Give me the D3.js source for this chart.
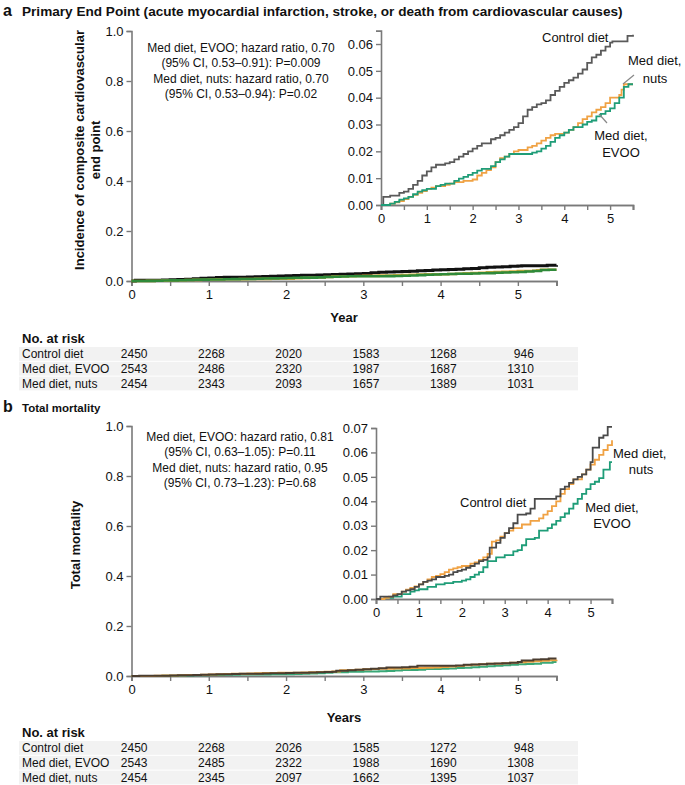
<!DOCTYPE html>
<html><head><meta charset="utf-8">
<script src="https://cdn.jsdelivr.net/npm/d3@7"></script>
<style>body{margin:0;background:#fff}text{font-family:"Liberation Sans",Arial,Helvetica,sans-serif;fill:#111}</style>
</head><body><svg id="c" width="685" height="785"></svg>
<script>
// ---------- DATA ----------
const yearTicks = [0, 1, 2, 3, 4, 5];
const groups = ["Control diet", "Med diet, EVOO", "Med diet, nuts"];
const riskA = [[2450,2268,2020,1583,1268,946],[2543,2486,2320,1987,1687,1310],[2454,2343,2093,1657,1389,1031]];
const riskB = [[2450,2268,2026,1585,1272,948],[2543,2485,2322,1988,1690,1308],[2454,2345,2097,1662,1395,1037]];
const insetTicksA = [0, 0.01, 0.02, 0.03, 0.04, 0.05, 0.06];
const insetTicksB = [0, 0.01, 0.02, 0.03, 0.04, 0.05, 0.06, 0.07];
const mainTicks = [0, 0.2, 0.4, 0.6, 0.8, 1.0];
const annotA = ["Med diet, EVOO; hazard ratio, 0.70","(95% CI, 0.53\u20130.91): P=0.009","Med diet, nuts: hazard ratio, 0.70","(95% CI, 0.53\u20130.94): P=0.02"];
const annotB = ["Med diet, EVOO: hazard ratio, 0.81","(95% CI, 0.63\u20131.05): P=0.11","Med diet, nuts: hazard ratio, 0.95","(95% CI, 0.73\u20131.23): P=0.68"];

// Panel a: primary end point (year, cumulative incidence)
const aControl = [[0,0],[0.05,0.003],[0.2,0.0035],[0.4,0.0045],[0.5,0.005],[0.6,0.006],[0.7,0.0075],[0.8,0.009],[0.9,0.011],[1.0,0.0125],[1.1,0.014],[1.2,0.015],[1.4,0.0155],[1.5,0.016],[1.6,0.017],[1.7,0.018],[1.8,0.019],[1.9,0.02],[2.0,0.021],[2.1,0.022],[2.2,0.023],[2.4,0.0245],[2.5,0.025],[2.6,0.026],[2.7,0.027],[2.8,0.028],[2.9,0.029],[3.0,0.0305],[3.1,0.033],[3.2,0.0355],[3.3,0.0365],[3.4,0.0375],[3.5,0.038],[3.6,0.039],[3.7,0.041],[3.8,0.0425],[3.9,0.044],[4.0,0.0455],[4.1,0.0465],[4.2,0.0475],[4.3,0.049],[4.4,0.0505],[4.5,0.053],[4.6,0.055],[4.7,0.056],[4.8,0.0575],[4.9,0.059],[5.0,0.0605],[5.05,0.061],[5.38,0.063],[5.5,0.0635]];
const aEvoo = [[0,0],[0.2,0.0005],[0.3,0.0012],[0.4,0.002],[0.5,0.0025],[0.6,0.003],[0.7,0.004],[0.8,0.005],[0.9,0.0055],[1.0,0.006],[1.2,0.007],[1.3,0.0075],[1.4,0.008],[1.6,0.009],[1.7,0.0098],[1.8,0.0105],[1.9,0.0112],[2.0,0.012],[2.1,0.0128],[2.2,0.0135],[2.4,0.0145],[2.5,0.016],[2.6,0.017],[2.7,0.018],[2.8,0.019],[3.0,0.019],[3.3,0.0195],[3.4,0.02],[3.5,0.021],[3.6,0.022],[3.7,0.0235],[3.8,0.025],[3.9,0.026],[4.0,0.027],[4.1,0.028],[4.2,0.029],[4.4,0.03],[4.5,0.031],[4.6,0.0315],[4.7,0.033],[4.8,0.034],[4.9,0.035],[5.0,0.036],[5.1,0.038],[5.2,0.04],[5.3,0.044],[5.4,0.045],[5.5,0.045]];
const aNuts = [[0,0],[0.2,0.0005],[0.3,0.001],[0.4,0.0015],[0.5,0.0022],[0.6,0.003],[0.7,0.0038],[0.8,0.0045],[0.9,0.0052],[1.0,0.006],[1.1,0.0065],[1.2,0.007],[1.4,0.0075],[1.5,0.008],[1.6,0.0085],[1.8,0.009],[2.0,0.0095],[2.1,0.011],[2.2,0.012],[2.3,0.013],[2.4,0.014],[2.5,0.016],[2.6,0.0175],[2.7,0.018],[2.8,0.019],[2.9,0.02],[3.0,0.0205],[3.2,0.0215],[3.3,0.022],[3.4,0.023],[3.5,0.024],[3.6,0.025],[3.7,0.026],[3.8,0.0265],[4.0,0.027],[4.1,0.028],[4.2,0.029],[4.3,0.0305],[4.4,0.032],[4.5,0.033],[4.6,0.0345],[4.7,0.0355],[4.8,0.0365],[4.9,0.038],[5.0,0.04],[5.2,0.041],[5.25,0.043],[5.3,0.045],[5.5,0.045]];

// Panel b: total mortality
const bControl = [[0,0],[0.1,0.001],[0.4,0.0015],[0.5,0.002],[0.6,0.003],[0.7,0.0035],[0.8,0.004],[0.9,0.005],[1.0,0.006],[1.1,0.007],[1.2,0.0075],[1.3,0.008],[1.4,0.009],[1.6,0.0095],[1.7,0.01],[1.8,0.011],[1.9,0.0115],[2.0,0.012],[2.1,0.0128],[2.2,0.0135],[2.3,0.0145],[2.4,0.0155],[2.5,0.016],[2.6,0.017],[2.65,0.021],[2.8,0.023],[2.9,0.025],[3.0,0.027],[3.1,0.029],[3.2,0.031],[3.3,0.0345],[3.5,0.035],[3.6,0.037],[3.7,0.041],[4.2,0.042],[4.3,0.045],[4.4,0.046],[4.5,0.0475],[4.6,0.049],[4.7,0.05],[4.8,0.051],[4.9,0.053],[5.0,0.056],[5.05,0.062],[5.2,0.066],[5.3,0.067],[5.4,0.0705],[5.5,0.0705]];
const bEvoo = [[0,0],[0.2,0.0005],[0.4,0.001],[0.6,0.002],[0.8,0.003],[0.9,0.0035],[1.0,0.004],[1.2,0.005],[1.4,0.006],[1.6,0.0065],[1.8,0.007],[2.0,0.0075],[2.1,0.008],[2.2,0.009],[2.3,0.01],[2.4,0.011],[2.5,0.013],[2.6,0.0155],[2.8,0.017],[3.0,0.018],[3.2,0.0195],[3.3,0.02],[3.4,0.022],[3.5,0.0245],[3.7,0.025],[3.8,0.028],[4.0,0.029],[4.1,0.0305],[4.2,0.032],[4.3,0.0335],[4.4,0.035],[4.5,0.037],[4.6,0.039],[4.7,0.041],[4.8,0.043],[4.9,0.045],[5.0,0.047],[5.1,0.048],[5.2,0.0495],[5.3,0.053],[5.45,0.056],[5.5,0.056]];
const bNuts = [[0,0],[0.2,0.0005],[0.3,0.001],[0.4,0.002],[0.6,0.003],[0.7,0.0038],[0.8,0.0045],[0.9,0.0052],[1.0,0.006],[1.1,0.007],[1.2,0.008],[1.3,0.009],[1.4,0.0095],[1.5,0.0102],[1.6,0.011],[1.7,0.012],[1.8,0.0125],[1.9,0.013],[2.0,0.0135],[2.2,0.0145],[2.3,0.015],[2.4,0.016],[2.5,0.017],[2.6,0.0185],[2.7,0.0235],[2.8,0.024],[2.9,0.0255],[3.0,0.027],[3.1,0.028],[3.2,0.029],[3.4,0.0305],[3.6,0.032],[3.8,0.033],[3.9,0.0345],[4.0,0.036],[4.1,0.038],[4.2,0.04],[4.3,0.043],[4.4,0.045],[4.5,0.047],[4.6,0.049],[4.8,0.051],[4.9,0.053],[5.0,0.055],[5.1,0.057],[5.2,0.059],[5.3,0.061],[5.4,0.063],[5.5,0.065]];

// ---------- DRAW ----------
const svg = d3.select("#c");
const AX = "#7a7a7a";
const FF = '"Liberation Sans",Arial,Helvetica,sans-serif';

function styleAxis(g, fs) {
  g.select(".domain").attr("stroke", AX).attr("stroke-width", 1.6);
  g.selectAll(".tick line").attr("stroke", AX).attr("stroke-width", 1.4);
  g.selectAll(".tick text").attr("font-size", fs).attr("font-family", FF).attr("fill", "#111");
}

function drawAxes(x, y, yTicks, yFmt, x0, y0, fs) {
  const gy = svg.append("g").attr("transform", `translate(${x0},0)`)
    .call(d3.axisLeft(y).tickValues(yTicks).tickFormat(yFmt).tickSize(5).tickPadding(3));
  styleAxis(gy, fs);
  const gxm = svg.append("g").attr("transform", `translate(0,${y0})`)
    .call(d3.axisBottom(x).tickValues([0.5,1.5,2.5,3.5,4.5,5.5]).tickFormat("").tickSize(5));
  styleAxis(gxm, fs);
  const gx = svg.append("g").attr("transform", `translate(0,${y0})`)
    .call(d3.axisBottom(x).tickValues(yearTicks).tickFormat(d3.format("d")).tickSize(5).tickPadding(4));
  styleAxis(gx, fs);
}

function drawCurves(x, y, series) {
  const line = d3.line().x(d => x(d[0])).y(d => y(d[1])).curve(d3.curveStepAfter);
  series.forEach(s => {
    svg.append("path").datum(s.data).attr("d", line)
      .attr("fill", "none").attr("stroke", s.color).attr("stroke-width", s.w)
      .attr("stroke-linejoin", "miter");
  });
}

function text(x, y, str, opts = {}) {
  return svg.append("text").attr("x", x).attr("y", y).text(str)
    .attr("font-size", opts.fs || 13).attr("font-weight", opts.bold ? "bold" : "normal")
    .attr("text-anchor", opts.anchor || "start").attr("fill", opts.fill || "#111");
}

function riskTable(top, rows, xMain) {
  text(22, top, "No. at risk", {fs: 13, bold: true});
  rows.forEach((r, i) => {
    const by = top + 15 + i * 14.8;
    svg.append("rect").attr("x", 19).attr("y", by - 11).attr("width", 559).attr("height", 13.8).attr("fill", "#f2f2f2");
    text(22, by, groups[i], {fs: 12});
    r.forEach((v, j) => text(xMain(yearTicks[j]) + 16, by, v, {fs: 12, anchor: "end"}));
  });
}

function panel(cfg) {
  const xM = d3.scaleLinear().domain([0, 5.5]).range([131.5, 556.5]);
  const yM = d3.scaleLinear().domain([0, 1]).range([cfg.mainBottom, cfg.mainBottom - 250]);
  drawAxes(xM, yM, mainTicks, d3.format(".1f"), 131.5, cfg.mainBottom, 13);
  drawCurves(xM, yM, cfg.mainSeries);

  const xI = d3.scaleLinear().domain([0, 5.5]).range(cfg.insetX);
  const yI = d3.scaleLinear().domain([0, cfg.insetMax]).range(cfg.insetY);
  drawAxes(xI, yI, cfg.insetTicks, d3.format(".2f"), cfg.insetX[0], cfg.insetY[0], 13);
  drawCurves(xI, yI, cfg.insetSeries);

  cfg.annot.forEach((s, i) => text(cfg.annotX, cfg.annotY + i * 15.3, s, {fs: 12, anchor: "middle"}));
  riskTable(cfg.tableTop, cfg.risk, xM);
}

// Panel a
text(3, 16, "a", {fs: 16, bold: true});
text(22, 16, "Primary End Point (acute myocardial infarction, stroke, or death from cardiovascular causes)", {fs: 13.6, bold: true});
svg.append("text").attr("transform", "translate(84,150) rotate(-90)").attr("text-anchor", "middle")
  .attr("font-size", 13).attr("font-weight", "bold").text("Incidence of composite cardiovascular");
svg.append("text").attr("transform", "translate(100,150) rotate(-90)").attr("text-anchor", "middle")
  .attr("font-size", 13).attr("font-weight", "bold").text("end point");
text(344, 322, "Year", {fs: 13, bold: true, anchor: "middle"});

panel({
  mainBottom: 281,
  mainSeries: [
    {data: aControl, color: "#111111", w: 3},
    {data: aNuts, color: "#d9aa3c", w: 2.6},
    {data: aEvoo, color: "#2f8a3a", w: 2.6}],
  insetX: [381, 633], insetY: [205, 30.6], insetMax: 0.065, insetTicks: insetTicksA,
  insetSeries: [
    {data: aControl, color: "#5a5a5a", w: 1.8},
    {data: aNuts, color: "#f0a244", w: 1.8},
    {data: aEvoo, color: "#1f9d78", w: 1.8}],
  annot: annotA, annotX: 241, annotY: 52,
  tableTop: 343, risk: riskA
});
text(542, 42, "Control diet", {fs: 13});
text(628, 65, "Med diet,", {fs: 13});
text(655, 83, "nuts", {fs: 13, anchor: "middle"});
text(621, 140, "Med diet,", {fs: 13, anchor: "middle"});
text(621, 157, "EVOO", {fs: 13, anchor: "middle"});
svg.append("line").attr("x1", 634).attr("y1", 75).attr("x2", 623).attr("y2", 84).attr("stroke", "#888").attr("stroke-width", 1.2);
svg.append("line").attr("x1", 607).attr("y1", 123).attr("x2", 599).attr("y2", 114).attr("stroke", "#888").attr("stroke-width", 1.2);

// Panel b
text(3, 412, "b", {fs: 16, bold: true});
text(22, 412, "Total mortality", {fs: 11.5, bold: true});
svg.append("text").attr("transform", "translate(80,545) rotate(-90)").attr("text-anchor", "middle")
  .attr("font-size", 13).attr("font-weight", "bold").text("Total mortality");
text(344, 722, "Years", {fs: 13, bold: true, anchor: "middle"});

panel({
  mainBottom: 676,
  mainSeries: [
    {data: bEvoo, color: "#3aa878", w: 2},
    {data: bNuts, color: "#e8a040", w: 2},
    {data: bControl, color: "#4a3d30", w: 2}],
  insetX: [376, 612], insetY: [599, 428], insetMax: 0.07, insetTicks: insetTicksB,
  insetSeries: [
    {data: bEvoo, color: "#1f9d78", w: 1.8},
    {data: bNuts, color: "#f0a244", w: 1.8},
    {data: bControl, color: "#4a4a4a", w: 1.8}],
  annot: annotB, annotX: 240, annotY: 441,
  tableTop: 737, risk: riskB
});
text(460, 507, "Control diet", {fs: 13});
text(613, 458, "Med diet,", {fs: 13});
text(641, 474, "nuts", {fs: 13, anchor: "middle"});
text(612, 512, "Med diet,", {fs: 13, anchor: "middle"});
text(612, 528, "EVOO", {fs: 13, anchor: "middle"});
</script></body></html>
